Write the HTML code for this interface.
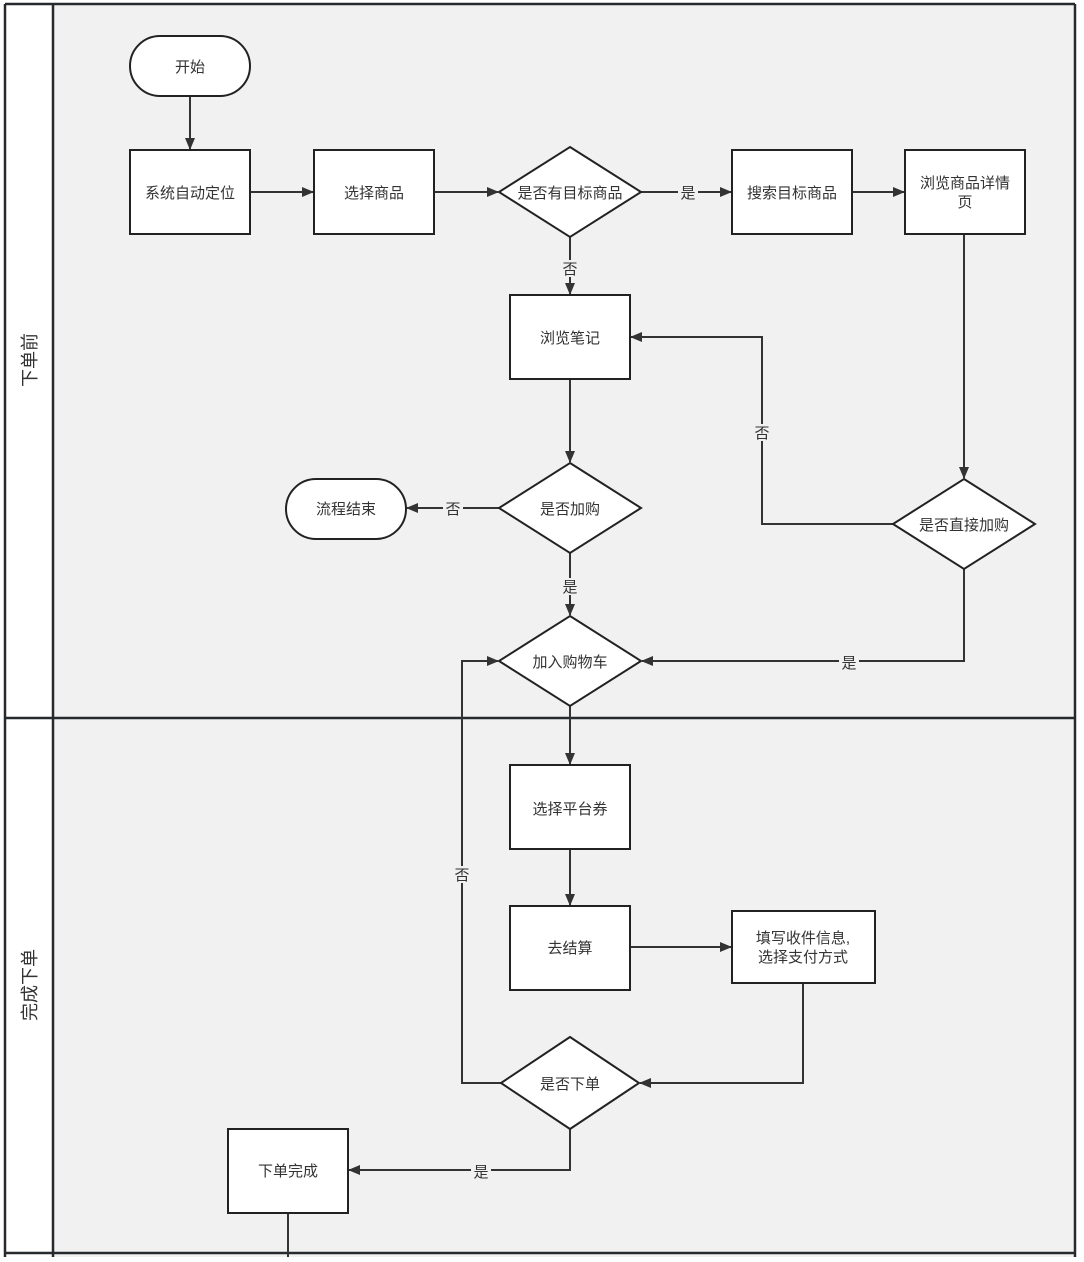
<!DOCTYPE html>
<html><head><meta charset="utf-8"><style>
html,body{margin:0;padding:0;background:#fff;}
svg text{font-family:"Liberation Sans","Noto Sans CJK SC",sans-serif;font-size:15px;fill:#333;}
</style></head><body>
<svg width="1084" height="1257" viewBox="0 0 1084 1257" xmlns="http://www.w3.org/2000/svg">
<defs><marker id="a" markerWidth="12" markerHeight="10" refX="11" refY="5" orient="auto" markerUnits="userSpaceOnUse"><path d="M0,0 L12,5 L0,10 z" fill="#333"/></marker></defs>
<rect x="5" y="4" width="1070" height="1260" fill="#f1f1f1"/>
<rect x="5" y="4" width="48" height="1260" fill="#fff"/>
<g stroke="#262a2e" stroke-width="2.5" fill="none">
<line x1="5" y1="4" x2="1075" y2="4"/>
<line x1="5" y1="4" x2="5" y2="1257"/>
<line x1="53" y1="4" x2="53" y2="1257"/>
<line x1="1075" y1="4" x2="1075" y2="1257"/>
<line x1="5" y1="718" x2="1075" y2="718"/>
<line x1="5" y1="1253" x2="1075" y2="1253"/>
</g>
<text transform="translate(36,360) rotate(-90)" text-anchor="middle" font-size="18" style="font-size:18px">下单前</text>
<text transform="translate(36,985) rotate(-90)" text-anchor="middle" style="font-size:18px">完成下单</text>
<g stroke="#333" stroke-width="2" fill="none" marker-end="url(#a)">
<line x1="190" y1="96" x2="190" y2="149"/>
<line x1="250" y1="192" x2="313" y2="192"/>
<line x1="434" y1="192" x2="498" y2="192"/>
<line x1="641" y1="192" x2="731" y2="192"/>
<line x1="852" y1="192" x2="904" y2="192"/>
<line x1="570" y1="237" x2="570" y2="294"/>
<line x1="570" y1="379" x2="570" y2="462"/>
<line x1="964" y1="234" x2="964" y2="478"/>
<polyline points="893,524 762,524 762,337 631,337"/>
<line x1="499" y1="508" x2="407" y2="508"/>
<line x1="570" y1="553" x2="570" y2="615"/>
<polyline points="964,569 964,661 642,661"/>
<line x1="570" y1="706" x2="570" y2="764"/>
<line x1="570" y1="849" x2="570" y2="905"/>
<line x1="630" y1="947" x2="731" y2="947"/>
<polyline points="803,983 803,1083 640,1083"/>
<polyline points="501,1083 462,1083 462,661 498,661"/>
<polyline points="570,1129 570,1170 349,1170"/>
</g>
<line x1="288" y1="1213" x2="288" y2="1257" stroke="#333" stroke-width="2"/>
<g fill="#fff" stroke="#222" stroke-width="2">
<rect x="130" y="36" width="120" height="60" rx="30"/>
<rect x="130" y="150" width="120" height="84"/>
<rect x="314" y="150" width="120" height="84"/>
<polygon points="570,147 641,192 570,237 499,192"/>
<rect x="732" y="150" width="120" height="84"/>
<rect x="905" y="150" width="120" height="84"/>
<rect x="510" y="295" width="120" height="84"/>
<polygon points="570,463 641,508 570,553 499,508"/>
<rect x="286" y="479" width="120" height="60" rx="30"/>
<polygon points="964,479 1035,524 964,569 893,524"/>
<polygon points="570,616 641,661 570,706 499,661"/>
<rect x="510" y="765" width="120" height="84"/>
<rect x="510" y="906" width="120" height="84"/>
<rect x="732" y="911" width="143" height="72"/>
<polygon points="570,1037 639,1083 570,1129 501,1083"/>
<rect x="228" y="1129" width="120" height="84"/>
</g>
<g text-anchor="middle">
<text x="190" y="72">开始</text>
<text x="190" y="198">系统自动定位</text>
<text x="374" y="198">选择商品</text>
<text x="570" y="198">是否有目标商品</text>
<text x="792" y="198">搜索目标商品</text>
<text x="965" y="188">浏览商品详情</text>
<text x="965" y="207">页</text>
<text x="570" y="343">浏览笔记</text>
<text x="570" y="514">是否加购</text>
<text x="346" y="514">流程结束</text>
<text x="964" y="530">是否直接加购</text>
<text x="570" y="667">加入购物车</text>
<text x="570" y="814">选择平台券</text>
<text x="570" y="953">去结算</text>
<text x="803" y="943">填写收件信息,</text>
<text x="803" y="962">选择支付方式</text>
<text x="570" y="1089">是否下单</text>
<text x="288" y="1176">下单完成</text>
</g>
<g text-anchor="middle">
<rect x="678" y="184" width="20" height="17" fill="#f1f1f1"/><text x="688" y="198">是</text>
<rect x="560" y="260" width="20" height="17" fill="#f1f1f1"/><text x="570" y="274">否</text>
<rect x="752" y="424" width="20" height="17" fill="#f1f1f1"/><text x="762" y="438">否</text>
<rect x="443" y="500" width="20" height="17" fill="#f1f1f1"/><text x="453" y="514">否</text>
<rect x="560" y="578" width="20" height="17" fill="#f1f1f1"/><text x="570" y="592">是</text>
<rect x="839" y="654" width="20" height="17" fill="#f1f1f1"/><text x="849" y="668">是</text>
<rect x="452" y="866" width="20" height="17" fill="#f1f1f1"/><text x="462" y="880">否</text>
<rect x="471" y="1163" width="20" height="17" fill="#f1f1f1"/><text x="481" y="1177">是</text>
</g>
</svg>
</body></html>
